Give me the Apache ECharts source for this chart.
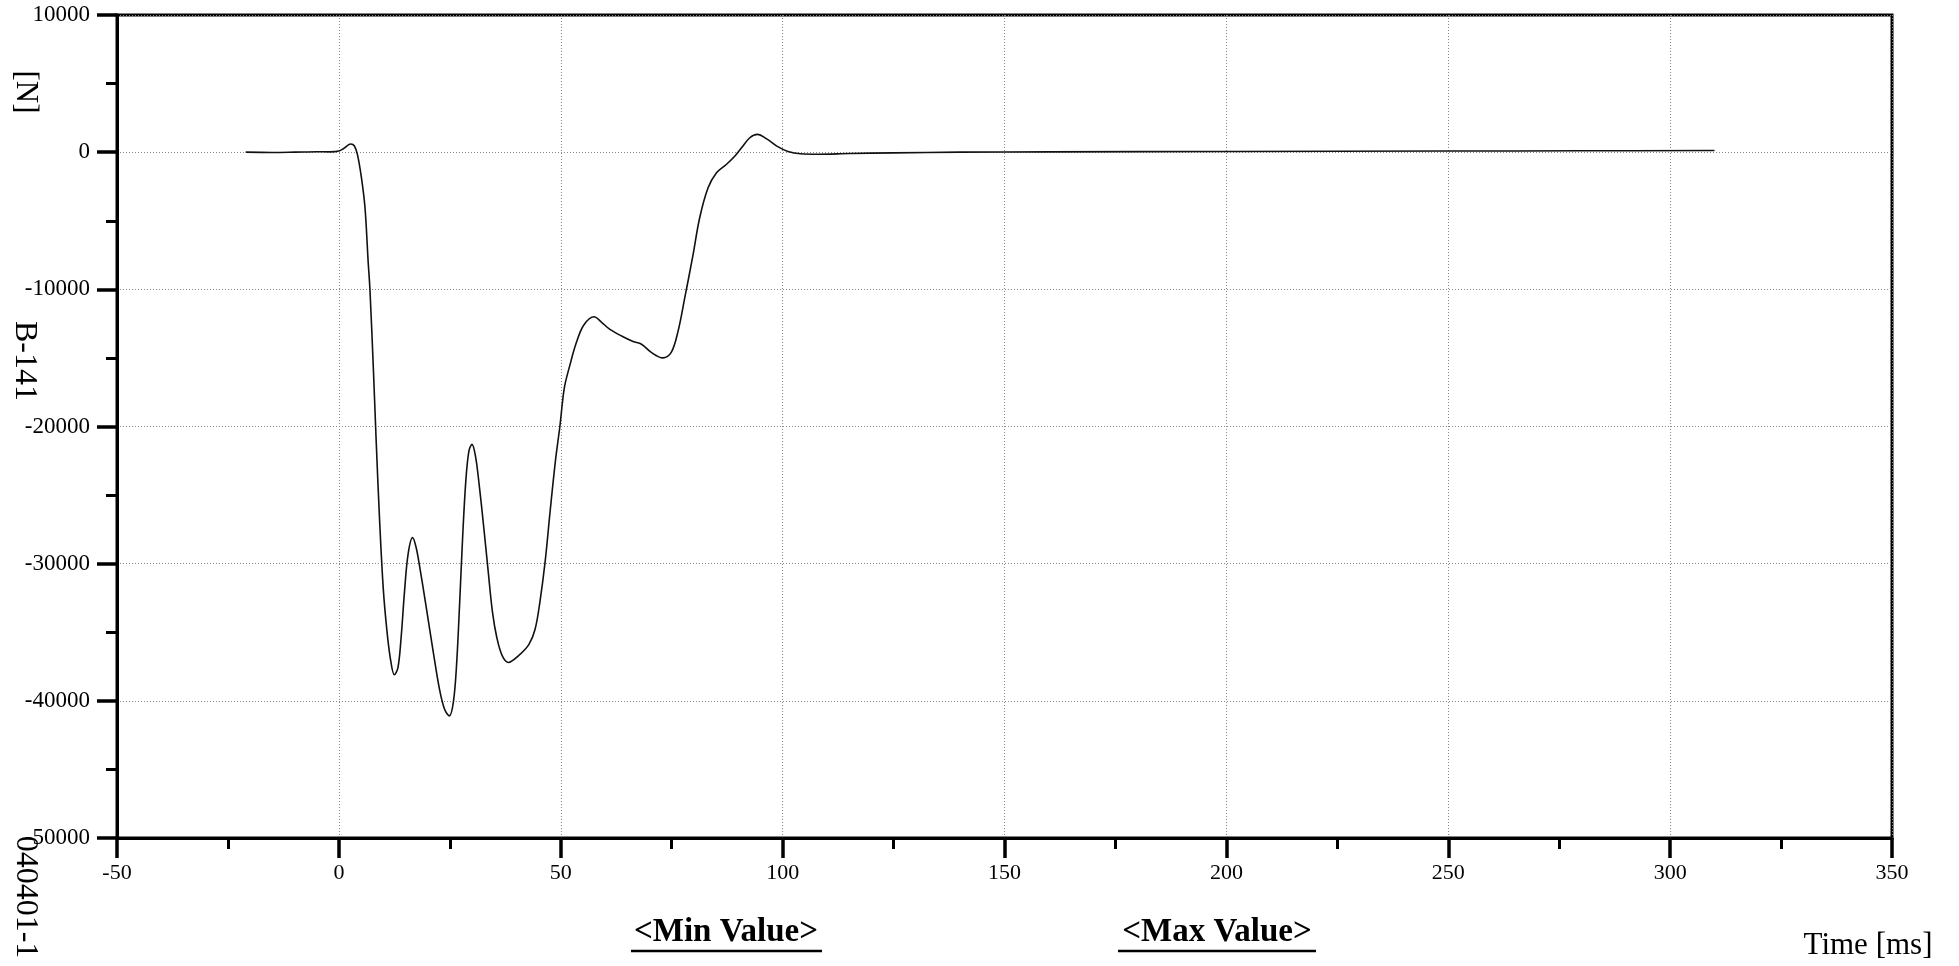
<!DOCTYPE html>
<html>
<head>
<meta charset="utf-8">
<script src="https://cdn.jsdelivr.net/npm/echarts@6/dist/echarts.min.js"></script>
<style>
html,body{margin:0;padding:0;background:#fff;}
#chart{width:1959px;height:966px;}
</style>
</head>
<body>
<div id="chart"></div>
<script>
// Time [ms]
const timeMs = [-21, -15, -10, -5, -2, 0, 1, 2, 2.7, 3.5, 4.2, 5.1, 5.9, 6.6, 7.0, 7.8, 8.4, 9.2, 10.0, 10.8, 11.6, 12.5, 13.3, 14.0, 14.8, 15.6, 16.6, 17.4, 18.3, 19.7, 21.2, 22.7, 23.8, 24.9, 25.8, 26.5, 27.2, 27.9, 28.6, 29.3, 30.0, 30.8, 31.6, 32.6, 33.6, 34.6, 35.6, 36.8, 38.2, 40.5, 42.8, 44.2, 45.3, 46.5, 47.6, 48.8, 49.8, 50.8, 52.0, 53.5, 55.2, 57.5, 59.2, 61, 63.7, 66.3, 68.2, 70.4, 73, 74.9, 76.4, 77.9, 79.8, 81.3, 83.2, 85.1, 87.3, 89.2, 90.7, 92.6, 94.3, 96.5, 98.9, 101.2, 104, 108, 115, 125, 140, 160, 200, 250, 280, 310];
// Force [N]
const forceN = [0, -20, 0, 30, 20, 80, 250, 500, 600, 450, -200, -1900, -4100, -8000, -10000, -16000, -21000, -27000, -31800, -34800, -36900, -38100, -37600, -35500, -32000, -29300, -28100, -28800, -30400, -33200, -36300, -39200, -40600, -41100, -40100, -37500, -33000, -28000, -24000, -21800, -21300, -22200, -24200, -27200, -30400, -33500, -35400, -36700, -37200, -36700, -35900, -34800, -32800, -29800, -26200, -22500, -20000, -17200, -15600, -13900, -12600, -12000, -12400, -12900, -13400, -13800, -14000, -14600, -15000, -14600, -13100, -10700, -7500, -4800, -2600, -1500, -900, -300, 300, 1050, 1300, 950, 400, 50, -120, -150, -100, -50, 0, 20, 50, 80, 100, 120];

const xTicks = [-50, 0, 50, 100, 150, 200, 250, 300, 350];
const yTicks = [-50000, -40000, -30000, -20000, -10000, 0, 10000];

const yLabelTop = '[N]';
const yLabelMid = 'B-141';
const yLabelBottom = '040401-1';
const xName = 'Time [ms]';
const minLabel = '<Min Value>';
const maxLabel = '<Max Value>';

const points = timeMs.map((t, i) => [t, forceN[i]]);

const chart = echarts.init(document.getElementById('chart'));
const serif = '"Liberation Serif", "Times New Roman", serif';
const axisCommon = {
  axisLine: { show: true, onZero: false, lineStyle: { color: '#000', width: 3 } },
  axisTick: { show: true, inside: false, length: 20, lineStyle: { color: '#000', width: 3.5 } },
  minorTick: { show: true, splitNumber: 2, length: 11, lineStyle: { color: '#000', width: 3 } },
  splitLine: { show: true, lineStyle: { color: '#888', width: 1, type: [1, 2] } },
  minorSplitLine: { show: false }
};

chart.setOption({
  animation: false,
  backgroundColor: '#fff',
  grid: { left: 117, right: 67, top: 15, bottom: 128, show: true, borderColor: '#000', borderWidth: 3, backgroundColor: 'transparent' },
  xAxis: Object.assign({
    type: 'value', min: xTicks[0], max: xTicks[xTicks.length - 1], interval: 50,
    axisLabel: { color: '#000', fontFamily: serif, fontSize: 22, margin: 24, formatter: v => String(v) }
  }, axisCommon),
  yAxis: Object.assign({
    type: 'value', min: yTicks[0], max: yTicks[yTicks.length - 1], interval: 10000,
    axisLabel: { color: '#000', fontFamily: serif, fontSize: 23, margin: 27, formatter: v => String(v) }
  }, axisCommon),
  series: [{
    type: 'line',
    data: points,
    smooth: 0.35,
    showSymbol: false,
    lineStyle: { color: '#111', width: 1.6 }
  }],
  graphic: [
    { type: 'text', x: 25, y: 92, rotation: -Math.PI / 2, style: { text: yLabelTop, fontFamily: serif, fontSize: 31, fill: '#000', align: 'center', verticalAlign: 'middle' } },
    { type: 'text', x: 24, y: 361, rotation: -Math.PI / 2, style: { text: yLabelMid, fontFamily: serif, fontSize: 32, fill: '#000', align: 'center', verticalAlign: 'middle' } },
    { type: 'text', x: 25, y: 897, rotation: -Math.PI / 2, style: { text: yLabelBottom, fontFamily: serif, fontSize: 32, fill: '#000', align: 'center', verticalAlign: 'middle' } },
    { type: 'text', x: 1868, y: 946, style: { text: xName, fontFamily: serif, fontSize: 31, fill: '#000', align: 'center', verticalAlign: 'middle' } },
    { type: 'text', x: 726, y: 932, style: { text: minLabel, fontFamily: serif, fontSize: 33, fontWeight: 'bold', fill: '#000', align: 'center', verticalAlign: 'middle' } },
    { type: 'line', shape: { x1: 631, y1: 951, x2: 822, y2: 951 }, style: { stroke: '#000', lineWidth: 2.5 } },
    { type: 'text', x: 1217, y: 932, style: { text: maxLabel, fontFamily: serif, fontSize: 33, fontWeight: 'bold', fill: '#000', align: 'center', verticalAlign: 'middle' } },
    { type: 'line', shape: { x1: 1118, y1: 951, x2: 1316, y2: 951 }, style: { stroke: '#000', lineWidth: 2.5 } }
  ]
});
</script>
</body>
</html>
